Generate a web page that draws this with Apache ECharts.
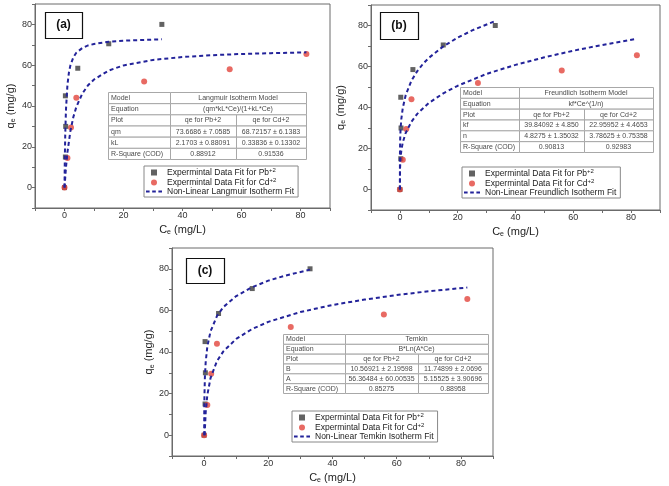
<!DOCTYPE html>
<html>
<head>
<meta charset="utf-8">
<script src="https://cdn.jsdelivr.net/npm/echarts@6/dist/echarts.min.js"></script>
<style>
  html, body { margin: 0; padding: 0; background: #fff; }
  #chart { width: 669px; height: 486px; }
</style>
</head>
<body>
<div id="chart"></div>
<script>
// experimental points, same in all three panels
const cePb = [0, 0.3, 0.4, 0.3, 4.5, 15, 33];
const qePb = [0, 15, 30, 45, 58.5, 70.5, 80];
const ceCd = [0, 1, 2.2, 4, 27, 56, 82];
const qeCd = [0, 14.5, 29.5, 44, 52, 58, 65.5];

// dashed fit curves
const langPbX = [0, 0.1, 0.25, 0.5, 1, 1.5, 2, 3, 4, 6, 8, 10, 15, 20, 25, 33];
const langPbY = [0, 13.1, 25.9, 38.3, 50.4, 56.4, 59.9, 63.9, 66.1, 68.4, 69.7, 70.4, 71.5, 72.0, 72.3, 72.7];
const langCdX = [0, 0.5, 1, 2, 3, 4, 6, 8, 10, 15, 20, 30, 40, 50, 60, 70, 82];
const langCdY = [0, 9.9, 17.4, 27.7, 34.6, 39.5, 46.0, 50.2, 53.0, 57.4, 59.9, 62.6, 64.0, 64.9, 65.5, 65.9, 66.3];
const freuPbX = [0, 0.02, 0.1, 0.25, 0.5, 1, 2, 4, 6, 8, 10, 15, 20, 25, 33];
const freuPbY = [0, 17.7, 24.7, 29.9, 34.5, 39.8, 46.0, 53.1, 57.7, 61.3, 64.2, 69.8, 74.1, 77.6, 82.2];
const freuCdX = [0, 0.05, 0.25, 0.5, 1, 2, 4, 6, 10, 15, 20, 30, 40, 50, 60, 70, 82];
const freuCdY = [0, 10.4, 15.9, 19.1, 23.0, 27.6, 33.1, 36.9, 42.2, 46.9, 50.6, 56.4, 60.8, 64.5, 67.7, 70.5, 73.5];
const temkPbX = [0.02, 0.05, 0.1, 0.25, 0.5, 1, 2, 4, 6, 10, 15, 20, 25, 33];
const temkPbY = [0, 11.0, 18.3, 28.0, 35.3, 42.6, 49.9, 57.3, 61.6, 66.9, 71.2, 74.3, 76.6, 79.6];
const temkCdX = [0.19, 0.25, 0.5, 1, 2, 4, 6, 10, 15, 20, 30, 40, 50, 60, 70, 82];
const temkCdY = [0, 3.0, 11.1, 19.3, 27.4, 35.6, 40.3, 46.3, 51.1, 54.5, 59.2, 62.6, 65.2, 67.4, 69.2, 71.0];

const xTicks = [0, 20, 40, 60, 80];
const yTicks = [0, 20, 40, 60, 80];

const panelLabels = ['(a)', '(b)', '(c)'];
const fitNames = ['Non-Linear Langmuir Isotherm Fit', 'Non-Linear Freundlich Isotherm Fit', 'Non-Linear Temkin Isotherm Fit'];
const pbName = 'Expermintal Data Fit for Pb+2';
const cdName = 'Expermintal Data Fit for Cd+2';

// fit tables
const tableA = [
  ['Model', 'Langmuir Isotherm Model'],
  ['Equation', '(qm*kL*Ce)/(1+kL*Ce)'],
  ['Plot', 'qe for Pb+2', 'qe for Cd+2'],
  ['qm', '73.6686 ± 7.0585', '68.72157 ± 6.1383'],
  ['kL', '2.1703 ± 0.88091', '0.33836 ± 0.13302'],
  ['R-Square (COD)', '0.88912', '0.91536']
];
const tableB = [
  ['Model', 'Freundlich Isotherm Model'],
  ['Equation', 'kf*Ce^(1/n)'],
  ['Plot', 'qe for Pb+2', 'qe for Cd+2'],
  ['kf', '39.84092 ± 4.850', '22.95952 ± 4.4653'],
  ['n', '4.8275 ± 1.35032', '3.78625 ± 0.75358'],
  ['R-Square (COD)', '0.90813', '0.92983']
];
const tableC = [
  ['Model', 'Temkin'],
  ['Equation', 'B*Ln(A*Ce)'],
  ['Plot', 'qe for Pb+2', 'qe for Cd+2'],
  ['B', '10.56921 ± 2.19598', '11.74899 ± 2.0696'],
  ['A', '56.36484 ± 60.00535', '5.15525 ± 3.90696'],
  ['R-Square (COD)', '0.85275', '0.88958']
];

const zip = (xs, ys) => xs.map((x, i) => [x, ys[i]]);

const fits = [
  [zip(langPbX, langPbY), zip(langCdX, langCdY)],
  [zip(freuPbX, freuPbY), zip(freuCdX, freuCdY)],
  [zip(temkPbX, temkPbY), zip(temkCdX, temkCdY)]
];

// layout of each panel (pixels)
const grids = [
  { left: 35, top: 4, width: 295, height: 204 },
  { left: 371, top: 5, width: 289, height: 205 },
  { left: 172, top: 248, width: 321, height: 208 }
];
const yNameGap = [18, 24, 14];
const legendPos = [[144, 166], [462, 167], [292, 411]];
const labelBox = [[45, 12, 37, 26], [380, 12, 38, 27], [186, 258, 38, 25]];
const tableBox = [
  { t: tableA, x: 108, y: 92, w: 198, h: 67, c1: 170, c2: 236 },
  { t: tableB, x: 460, y: 87, w: 193, h: 65, c1: 519, c2: 584 },
  { t: tableC, x: 283, y: 334, w: 205, h: 59, c1: 345, c2: 418 }
];

const frame = '#6b6b6b';
const pbColor = '#3b3b3b';
const cdColor = '#e2453c';
const fitColor = '#23239a';

// legend icons: a small square and a dashed stroke
const squareIcon = 'path://M0,0H1V1H0Z';
const dashIcon = 'path://M0,0H3.5V2H0ZM6,0H9.5V2H6ZM12,0H15.5V2H12Z';

const nameRich = {
  v: { fontSize: 11, color: '#222', fontFamily: 'Liberation Sans' },
  s: { fontSize: 7, color: '#222', fontFamily: 'Liberation Sans', padding: [6, 0, 0, 0] }
};
const legRich = {
  t: { fontSize: 8.5, color: '#222', fontFamily: 'Liberation Sans', lineHeight: 11 },
  p: { fontSize: 6, color: '#222', fontFamily: 'Liberation Sans', padding: [0, 0, 5, 0] }
};

let xAxis = [], yAxis = [], series = [], legend = [], graphic = [];

grids.forEach((g, i) => {
  xAxis.push({
    type: 'value', gridIndex: i, min: -10, max: 90, interval: 10,
    name: '{v|C}{s|e}{v| (mg/L)}', nameLocation: 'middle', nameGap: 15,
    nameTextStyle: { rich: nameRich },
    axisLine: { onZero: false, lineStyle: { color: frame } },
    axisTick: { length: 3, lineStyle: { color: frame } },
    axisLabel: { fontSize: 9, color: '#333', margin: 3, fontFamily: 'Liberation Sans',
      formatter: v => xTicks.includes(v) ? String(v) : '' },
    splitLine: { show: false }
  });
  yAxis.push({
    type: 'value', gridIndex: i, min: -10, max: 90, interval: 10,
    name: '{v|q}{s|e}{v| (mg/g)}', nameLocation: 'middle', nameGap: yNameGap[i],
    nameTextStyle: { rich: nameRich },
    axisLine: { onZero: false, lineStyle: { color: frame } },
    axisTick: { length: 3, lineStyle: { color: frame } },
    axisLabel: { fontSize: 9, color: '#333', margin: 3, fontFamily: 'Liberation Sans',
      formatter: v => yTicks.includes(v) ? String(v) : '' },
    splitLine: { show: false }
  });
  series.push({
    name: pbName, type: 'scatter', xAxisIndex: i, yAxisIndex: i,
    symbol: 'rect', symbolSize: 5, itemStyle: { color: pbColor },
    data: zip(cePb, qePb), z: 2
  });
  series.push({
    name: cdName, type: 'scatter', xAxisIndex: i, yAxisIndex: i,
    symbol: 'circle', symbolSize: 6, itemStyle: { color: cdColor },
    data: zip(ceCd, qeCd), z: 3
  });
  fits[i].forEach(d => {
    series.push({
      name: fitNames[i], type: 'line', xAxisIndex: i, yAxisIndex: i,
      symbol: 'none', showSymbol: false, smooth: false, z: 4,
      itemStyle: { color: fitColor },
      lineStyle: { color: fitColor, width: 2, type: [4, 3] },
      data: d
    });
  });
  legend.push({
    orient: 'vertical', left: legendPos[i][0], top: legendPos[i][1],
    padding: [1, 4, 1, 2], itemGap: 0, itemWidth: 16, itemHeight: 6,
    borderColor: '#888', borderWidth: 1, borderRadius: 0, backgroundColor: '#fff',
    symbolKeepAspect: true,
    data: [
      { name: pbName, icon: squareIcon },
      { name: cdName, icon: 'circle' },
      { name: fitNames[i], icon: dashIcon }
    ],
    formatter: n => n.endsWith('+2') ? '{t|' + n.slice(0, -2) + '}{p|+2}' : '{t|' + n + '}',
    textStyle: { rich: legRich },
    itemStyle: { borderWidth: 0 }
  });

  // panel label box
  const b = labelBox[i];
  graphic.push({
    type: 'rect', z: 10,
    shape: { x: b[0] + 0.5, y: b[1] + 0.5, width: b[2], height: b[3] },
    style: { fill: '#fff', stroke: '#111', lineWidth: 1.2 }
  });
  graphic.push({
    type: 'text', z: 11, x: b[0] + b[2] / 2, y: b[1] + b[3] / 2,
    style: { text: panelLabels[i], fill: '#111', fontSize: 12, fontWeight: 'bold',
      fontFamily: 'Liberation Sans', align: 'center', verticalAlign: 'middle' }
  });

  // results table
  const tb = tableBox[i];
  const rh = tb.h / tb.t.length;
  tb.t.forEach((row, r) => {
    const y = tb.y + r * rh;
    const cells = row.length === 2
      ? [[tb.x, tb.c1], [tb.c1, tb.x + tb.w]]
      : [[tb.x, tb.c1], [tb.c1, tb.c2], [tb.c2, tb.x + tb.w]];
    cells.forEach((c, k) => {
      graphic.push({
        type: 'rect', z: 10,
        shape: { x: c[0] + 0.5, y: y + 0.5, width: c[1] - c[0], height: rh },
        style: { fill: '#fff', stroke: '#a8a8a8', lineWidth: 1 }
      });
      graphic.push({
        type: 'text', z: 11,
        x: k === 0 ? c[0] + 3 : (c[0] + c[1]) / 2, y: y + rh / 2 + 0.5,
        style: { text: row[k], fill: '#4a4a4a', fontSize: 7, fontFamily: 'Liberation Sans',
          align: k === 0 ? 'left' : 'center', verticalAlign: 'middle' }
      });
    });
  });
});

const chart = echarts.init(document.getElementById('chart'));
chart.setOption({
  backgroundColor: '#fff',
  animation: false,
  grid: grids.map(g => Object.assign({ show: true, borderColor: frame, borderWidth: 1 }, g)),
  xAxis: xAxis,
  yAxis: yAxis,
  legend: legend,
  series: series,
  graphic: graphic
});
</script>
</body>
</html>
